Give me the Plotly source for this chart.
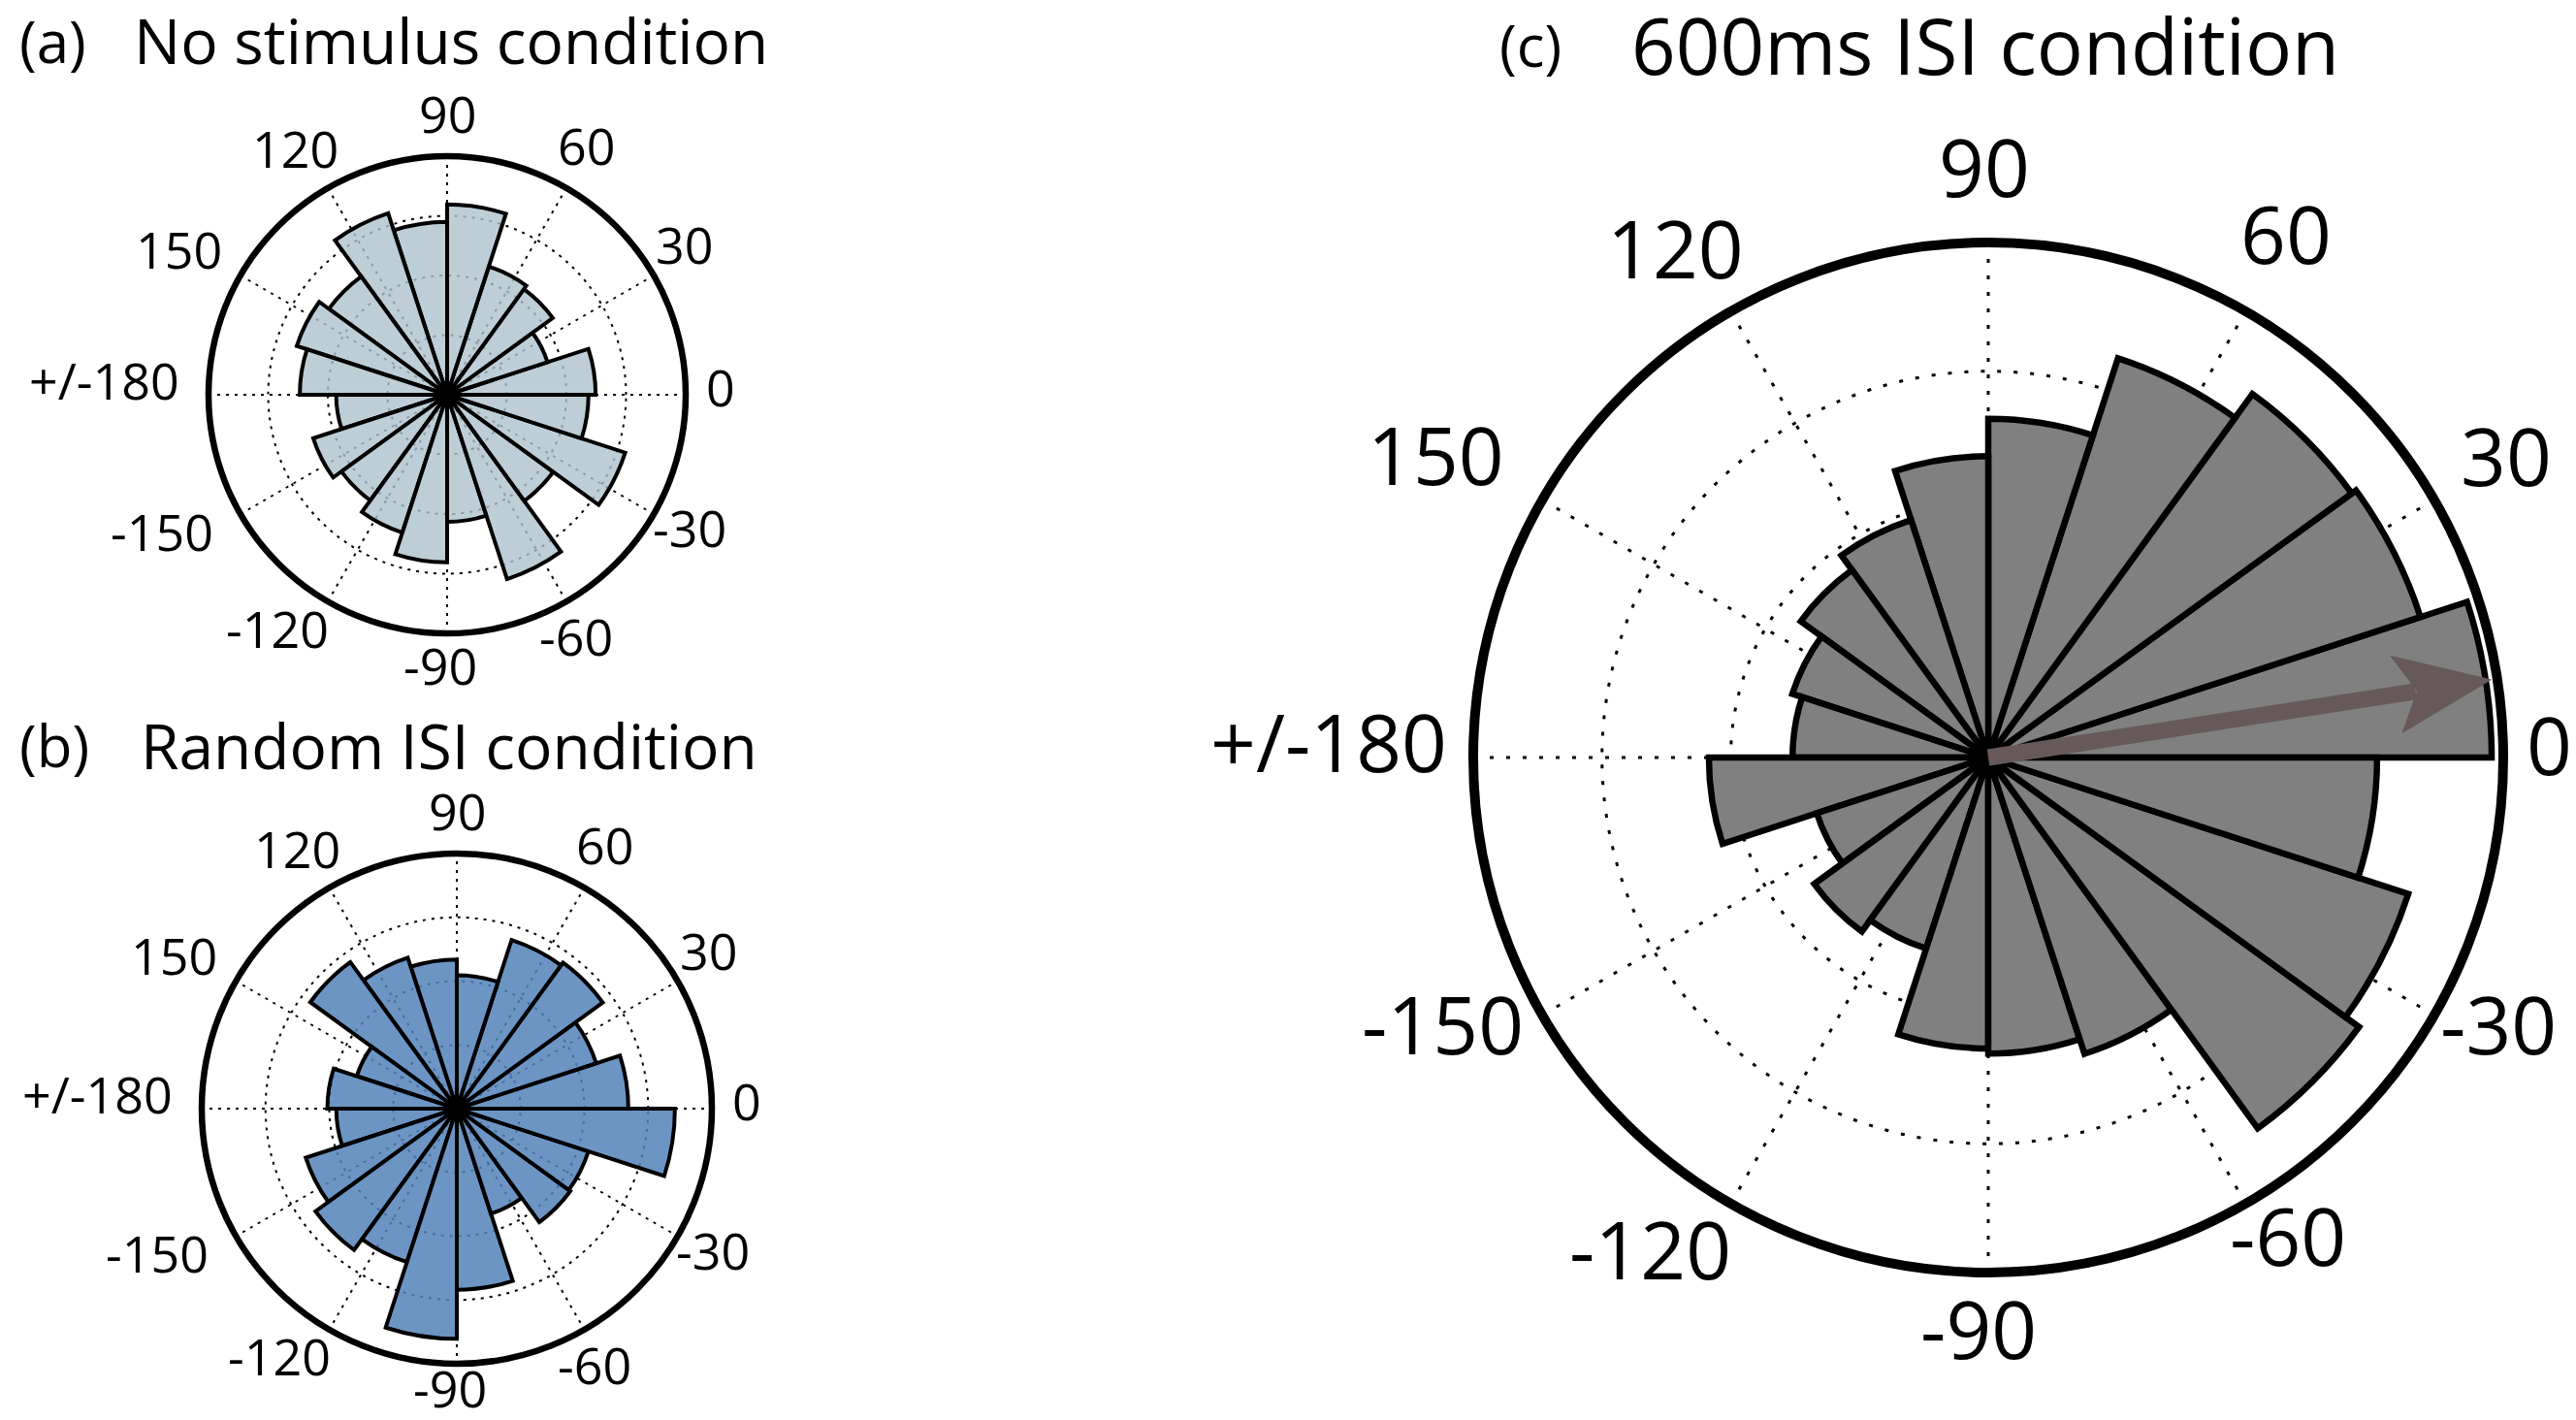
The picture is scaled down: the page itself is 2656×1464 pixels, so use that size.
import numpy as np
import plotly.graph_objects as go

# ---------------- data ----------------
bin_centers = [9, 27, 45, 63, 81, 99, 117, 135, 153, 171,
               189, 207, 225, 243, 261, 279, 297, 315, 333, 351]
bin_width = 18

no_stimulus = [2.49, 1.77, 2.19, 2.26, 3.19, 2.90, 3.20, 2.45, 2.65, 2.47,
               1.86, 2.36, 2.19, 2.43, 2.81, 2.13, 3.25, 2.20, 3.14, 2.37]
random_isi = [2.69, 2.30, 2.83, 2.78, 2.09, 2.34, 2.49, 2.84, 1.65, 2.03,
              1.89, 2.49, 2.74, 2.53, 3.61, 2.84, 1.73, 2.20, 2.17, 3.42]
isi_600 = [3.91, 3.53, 3.49, 3.26, 2.63, 2.34, 1.94, 1.80, 1.60, 1.52,
           2.17, 1.40, 1.67, 1.56, 2.26, 2.30, 2.42, 3.56, 3.43, 3.02]

mean_angle_600 = 8.8      # degrees
mean_length_600 = 3.95    # in radial units

tick_vals = [0, 30, 60, 90, 120, 150, 180, 210, 240, 270, 300, 330]
tick_text = ["0", "30", "60", "90", "120", "150", "+/-180",
             "-150", "-120", "-90", "-60", "-30"]
ring_vals = [1, 2, 3]
r_max = 4

FONT = "Open Sans"
W, H = 2656, 1464

# ---------------- layout geometry ----------------
# small per-label pixel nudges (dx right, dy down) to follow the original placement
nudge_a = {0: (-4, 0), 30: (-12, 2), 60: (0, 0), 90: (0, 0), 120: (-10, 8),
           150: (-9, 13), 180: (-5, -7), 210: (-21, -9), 240: (-27, -7),
           270: (-7, 6), 300: (-12, 6), 330: (-13, -6)}
nudge_b = dict(nudge_a)
nudge_b[270] = (-7, -2)
nudge_c = {0: (-3, 0), 30: (12, 3), 60: (8, -9), 90: (-4, 0), 120: (-20, 12),
           150: (-32, 12), 180: (0, -3), 210: (-15, -28), 240: (-44, -8),
           270: (-10, 6), 300: (8, -16), 330: (-5, -19)}

panels = {
    "polar":  dict(cx=453, cy=399, R=246, fs=52, gx=27, gy=17, nudge=nudge_a),
    "polar2": dict(cx=463, cy=1135, R=263, fs=52, gx=27, gy=17, nudge=nudge_b),
    "polar3": dict(cx=2042, cy=773, R=531, fs=82, gx=30, gy=36, nudge=nudge_c),
}

fig = go.Figure()

def add_rose(values, polar, fill, line_w, dot_size):
    fig.add_trace(go.Barpolar(
        r=values, theta=bin_centers, width=[bin_width] * len(values),
        marker=dict(color=fill, line=dict(color="black", width=line_w)),
        subplot=polar, showlegend=False, hoverinfo="skip"))
    fig.add_trace(go.Scatterpolar(
        r=[0], theta=[0], mode="markers",
        marker=dict(color="black", size=dot_size),
        subplot=polar, showlegend=False, hoverinfo="skip"))

add_rose(no_stimulus, "polar", "rgba(174,194,204,0.80)", 4, 20)
add_rose(random_isi, "polar2", "rgba(84,131,186,0.85)", 4, 22)
add_rose(isi_600, "polar3", "rgb(128,128,128)", 6.5, 32)

# mean-direction arrow in (c)
a = np.deg2rad(mean_angle_600)
L = mean_length_600
head_len = 0.74
head_half = 0.30
u = np.array([np.cos(a), np.sin(a)])
n = np.array([-np.sin(a), np.cos(a)])
tip = L * u
base = (L - head_len) * u
notch = (L - 0.78 * head_len) * u
pts = [tip, base + head_half * n, notch, base - head_half * n, tip]
head_r = [float(np.hypot(*p)) for p in pts]
head_t = [float(np.degrees(np.arctan2(p[1], p[0]))) for p in pts]
arrow_col = "rgb(103,89,89)"
fig.add_trace(go.Scatterpolar(
    r=[0, L - 0.8 * head_len], theta=[mean_angle_600, mean_angle_600],
    mode="lines", line=dict(color=arrow_col, width=17),
    subplot="polar3", showlegend=False, hoverinfo="skip"))
fig.add_trace(go.Scatterpolar(
    r=head_r, theta=head_t, mode="lines", fill="toself",
    fillcolor=arrow_col, line=dict(color=arrow_col, width=1),
    subplot="polar3", showlegend=False, hoverinfo="skip"))

def polar_layout(key, circ_w, dash, gw):
    p = panels[key]
    xd = [(p["cx"] - p["R"]) / W, (p["cx"] + p["R"]) / W]
    yd = [(H - p["cy"] - p["R"]) / H, (H - p["cy"] + p["R"]) / H]
    return dict(
        domain=dict(x=xd, y=yd),
        bgcolor="white",
        angularaxis=dict(
            rotation=0, direction="counterclockwise",
            tickmode="array", tickvals=tick_vals, showticklabels=False,
            ticks="", showline=True, linecolor="black", linewidth=circ_w,
            showgrid=True, gridcolor="black", gridwidth=gw, griddash=dash),
        radialaxis=dict(
            range=[0, r_max], tickmode="array", tickvals=ring_vals,
            showticklabels=False, ticks="", showline=False,
            showgrid=True, gridcolor="black", gridwidth=gw, griddash=dash),
    )

fig.update_layout(
    width=W, height=H,
    margin=dict(l=0, r=0, t=0, b=0),
    paper_bgcolor="white", plot_bgcolor="white",
    polar=polar_layout("polar", 6.5, "3px,6px", 2),
    polar2=polar_layout("polar2", 6.5, "3px,6px", 2),
    polar3=polar_layout("polar3", 10, "4px,13px", 2.5),
    showlegend=False,
)

# angular tick labels placed just outside each circle
CHAR_W = {"-": 0.322, "+": 0.572, "/": 0.367}
def text_width(s, fs):
    return (sum(CHAR_W.get(ch, 0.572) for ch in s) - 0.08) * fs

def add_tick_labels(key):
    p = panels[key]
    R, fs = p["R"], p["fs"]
    for ang, txt in zip(tick_vals, tick_text):
        th = np.deg2rad(ang)
        ax_ = text_width(txt, fs) / 2 + p["gx"]
        by_ = 0.714 * fs / 2 + p["gy"]
        d = R + np.hypot(ax_ * np.cos(th), by_ * np.sin(th))
        ndx, ndy = p["nudge"][ang]
        x_px = p["cx"] + d * np.cos(th) + ndx
        y_px = p["cy"] - d * np.sin(th) + ndy - 0.17 * fs
        fig.add_annotation(text=txt, x=x_px / W, y=1 - y_px / H,
                           xref="paper", yref="paper",
                           xanchor="center", yanchor="middle", showarrow=False,
                           font=dict(family=FONT, size=fs, color="black"))

for pk in panels:
    add_tick_labels(pk)

def label(text, x, y, size):
    fig.add_annotation(text=text, x=x / W, y=1 - y / H, xref="paper", yref="paper",
                       xanchor="left", yanchor="middle", showarrow=False,
                       font=dict(family=FONT, size=size, color="black"))

label("(a)", 10, 34, 60)
label("No stimulus condition", 128, 34, 64)
label("(b)", 10, 760, 60)
label("Random ISI condition", 135, 760, 64)
label("(c)", 1536, 38, 60)
label("600ms ISI condition", 1672, 38, 80)

fig.write_html("out.html")
